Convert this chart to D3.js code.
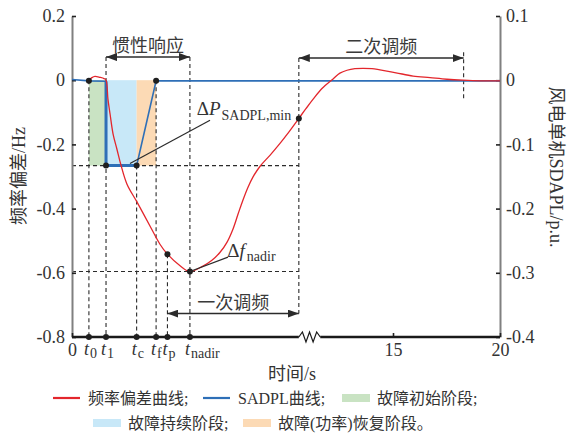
<!DOCTYPE html>
<html>
<head>
<meta charset="utf-8">
<script src="https://cdn.jsdelivr.net/npm/d3@7"></script>
<style>
  body { margin: 0; background: #fff; }
  svg { display: block; font-family: "Liberation Serif", "Times New Roman", "Noto Sans CJK SC", serif; }
</style>
</head>
<body>
<svg id="chart" width="570" height="437"></svg>
<script>
// ---- axes ----
const timeDomain = [0, 20];
const timeTicks = [0, 15, 20];
const freqDomain = [-0.8, 0.2];            // Hz
const freqTicks = [0.2, 0, -0.2, -0.4, -0.6, -0.8];
const sadplDomain = [-0.4, 0.1];           // p.u.
const sadplTicks = [0.1, 0, -0.1, -0.2, -0.3, -0.4];

// ---- characteristic instants: t0, t1, tc, tf, tp, tnadir ----
const eventSubs = ["0", "1", "c", "f", "p", "nadir"];
const eventTimes = [0.79, 1.59, 3.02, 3.93, 4.46, 5.51];
const primaryEnd = 10.6;     // primary regulation ends, secondary starts
const breakEnd = 11.6;       // end of the broken stretch of the time axis
const secondaryEnd = 18.3;

// ---- frequency deviation curve (Hz) ----
const freqTime = [0.79, 0.93, 1.07, 1.31, 1.50, 1.59, 1.68, 1.78, 1.92, 2.10,
  2.29, 2.57, 3.04, 3.65, 4.11, 4.46, 5.05, 5.51, 6.12, 6.54,
  6.92, 7.24, 7.52, 7.76, 7.99, 8.22, 8.46, 8.79, 9.25, 9.72,
  10.05, 10.6, 10.94, 11.26, 11.68, 12.2, 12.52, 12.85, 13.22, 13.6,
  14.02, 14.39, 15.14, 15.94, 16.73, 17.52, 18.27, 19.07, 20];
const freqDev = [0, 0.008, 0.012, 0.009, 0.005, 0, -0.059, -0.106, -0.168, -0.215,
  -0.265, -0.324, -0.380, -0.455, -0.511, -0.542, -0.578, -0.596, -0.579, -0.561,
  -0.536, -0.505, -0.464, -0.417, -0.373, -0.334, -0.301, -0.268, -0.234, -0.197,
  -0.169, -0.119, -0.088, -0.060, -0.026, 0.004, 0.022, 0.031, 0.036, 0.037,
  0.036, 0.032, 0.023, 0.013, 0.008, 0.003, 0, -0.002, -0.002];

// ---- wind turbine SADPL curve (p.u.) ----
const sadplTime = [0, 0.79, 1.59, 1.59, 3.02, 3.93, 20];
const sadplVal = [0.001, -0.001, -0.0015, -0.133, -0.133, -0.001, -0.001];
const sadplMin = -0.133;

// ---- fault stages ----
const stageStart = [0.79, 1.59, 3.02];
const stageEnd = [1.59, 3.02, 3.93];
const stageColors = ["#c9e3c3", "#c8e8f8", "#fcdab5"];

// ---- phase labels ----
const phaseNames = ["惯性响应", "一次调频", "二次调频"];

// ---- legend ----
const legendLabels = ["频率偏差曲线;", "SADPL曲线;", "故障初始阶段;", "故障持续阶段;", "故障(功率)恢复阶段。"];
const legendKinds = ["line", "line", "rect", "rect", "rect"];
const legendColors = ["#e3262c", "#2e6fb7", "#c9e3c3", "#c8e8f8", "#fcdab5"];

const RED = "#e3262c", BLUE = "#2e6fb7", INK = "#2b2b2b", TXT = "#333";

const svg = d3.select("#chart");
const x = d3.scaleLinear().domain(timeDomain).range([72, 500]);
const yF = d3.scaleLinear().domain(freqDomain).range([337, 16]);
const yS = d3.scaleLinear().domain(sadplDomain).range([337, 16]);
const fmt = d => d === 0 ? "0" : String(+d.toFixed(1));
const freqAt = t => freqDev[freqTime.indexOf(t)];
const [t0, t1, tc, tf, tp, tn] = eventTimes;
const nadir = freqAt(tn);

// arrow heads
const defs = svg.append("defs");
defs.append("marker").attr("id", "arr")
  .attr("viewBox", "0 0 11 8").attr("refX", 11).attr("refY", 4)
  .attr("markerWidth", 11).attr("markerHeight", 8)
  .attr("markerUnits", "userSpaceOnUse").attr("orient", "auto-start-reverse")
  .append("path").attr("d", "M0,0L11,4L0,8z").attr("fill", INK);

// fault stage shading
svg.append("g").selectAll("rect").data(stageStart).join("rect")
  .attr("x", (d, i) => x(d))
  .attr("width", (d, i) => x(stageEnd[i]) - x(d))
  .attr("y", yS(0))
  .attr("height", yS(sadplMin) - yS(0))
  .attr("fill", (d, i) => stageColors[i]);

// dashed guide lines
const guides = svg.append("g").attr("stroke", INK).attr("stroke-width", 1.1)
  .attr("stroke-dasharray", "4,3").attr("fill", "none");
const dash = (x1, y1, x2, y2) => guides.append("line")
  .attr("x1", x1).attr("y1", y1).attr("x2", x2).attr("y2", y2);
const inertiaLevel = 0.072, secondaryLevel = 0.069, primaryLevel = -0.727;
const bottomY = yF(freqDomain[0]);
dash(x(t0), yS(0), x(t0), bottomY);
dash(x(t1), yF(inertiaLevel), x(t1), bottomY);
dash(x(tc), yS(sadplMin), x(tc), bottomY);
dash(x(tf), yS(0), x(tf), bottomY);
dash(x(tp), yF(freqAt(tp)), x(tp), bottomY);
dash(x(tn), yF(inertiaLevel), x(tn), bottomY);
dash(x(primaryEnd), yF(secondaryLevel), x(primaryEnd), yF(primaryLevel));
dash(x(secondaryEnd), yF(0.087), x(secondaryEnd), yF(-0.065));
dash(x(0), yS(sadplMin), x(primaryEnd), yS(sadplMin));
dash(x(0), yF(nadir), x(primaryEnd), yF(nadir));

// left axis
const gL = svg.append("g").attr("transform", "translate(72,0)")
  .call(d3.axisLeft(yF).tickValues(freqTicks).tickFormat(fmt)
    .tickSizeInner(-4).tickSizeOuter(0).tickPadding(7));
// right axis
const gR = svg.append("g").attr("transform", "translate(500,0)")
  .call(d3.axisRight(yS).tickValues(sadplTicks).tickFormat(fmt)
    .tickSizeInner(-4).tickSizeOuter(0).tickPadding(6));
[gL, gR].forEach(g => {
  g.select(".domain").attr("stroke", "#808080").attr("stroke-width", 2);
  g.selectAll(".tick line").attr("stroke", "#222").attr("stroke-width", 1.6);
  g.selectAll(".tick text").attr("fill", TXT).attr("font-size", 18)
    .attr("font-family", "Liberation Serif, serif");
});

// bottom axis with a break
const gB = svg.append("g").attr("transform", `translate(0,${bottomY})`)
  .call(d3.axisBottom(x).tickValues(timeTicks).tickFormat(d3.format("d"))
    .tickSizeInner(-4).tickSizeOuter(0).tickPadding(6));
gB.select(".domain").remove();
gB.selectAll(".tick line").attr("stroke", "#222").attr("stroke-width", 1.6);
gB.selectAll(".tick text").attr("fill", TXT).attr("font-size", 18)
  .attr("font-family", "Liberation Serif, serif");
const xb0 = x(primaryEnd), xb1 = x(breakEnd);
svg.append("path")
  .attr("d", `M${x(0)},${bottomY}H${xb0}M${xb1},${bottomY}H${x(20)}`)
  .attr("stroke", "#1a1a1a").attr("stroke-width", 2.6).attr("fill", "none");
const zig = d3.range(7).map(i => [xb0 + (xb1 - xb0) * i / 6,
  bottomY + (i === 0 || i === 6 ? 0 : (i % 2 ? -5 : 5))]);
svg.append("path").attr("d", d3.line()(zig))
  .attr("stroke", "#1a1a1a").attr("stroke-width", 1.2).attr("fill", "none");

// SADPL curve
const sadplPts = sadplTime.map((t, i) => [t, sadplVal[i]]);
const sLine = d3.line().x(d => x(d[0])).y(d => yS(d[1]));
svg.append("path").attr("d", sLine(sadplPts))
  .attr("stroke", BLUE).attr("stroke-width", 1.6).attr("fill", "none");
svg.append("path").attr("d", sLine(sadplPts.slice(2, 5)))
  .attr("stroke", BLUE).attr("stroke-width", 3).attr("fill", "none");

// frequency deviation curve
const freqPts = freqTime.map((t, i) => [t, freqDev[i]]);
svg.append("path")
  .attr("d", d3.line().x(d => x(d[0])).y(d => yF(d[1])).curve(d3.curveCatmullRom.alpha(0.5))(freqPts))
  .attr("stroke", RED).attr("stroke-width", 1.3).attr("fill", "none");

// markers
const dots = [
  [x(t0), yS(sadplVal[1])], [x(t1), yS(sadplMin)], [x(tc), yS(sadplMin)], [x(tf), yS(sadplVal[5])],
  [x(tp), yF(freqAt(tp))], [x(tn), yF(nadir)], [x(primaryEnd), yF(freqAt(primaryEnd))],
  ...eventTimes.map(t => [x(t), bottomY])
];
svg.append("g").selectAll("circle").data(dots).join("circle")
  .attr("cx", d => d[0]).attr("cy", d => d[1]).attr("r", 3).attr("fill", "#1f1f1f");

// event labels on the time axis
const evText = svg.append("g").attr("fill", TXT).attr("font-family", "Liberation Serif, serif");
eventTimes.forEach((t, i) => {
  const tx = evText.append("text").attr("x", x(t) - 5).attr("y", 355);
  tx.append("tspan").attr("font-size", 18).attr("font-style", "italic").text("t");
  tx.append("tspan").attr("font-size", 14).attr("dy", 3).attr("dx", 1).text(eventSubs[i]);
});

// phase arrows
const phases = [
  [t1, tn, inertiaLevel],
  [tp, primaryEnd, primaryLevel],
  [primaryEnd, secondaryEnd, secondaryLevel]
];
phases.forEach(([a, b, lv], i) => {
  svg.append("line").attr("x1", x(a)).attr("x2", x(b)).attr("y1", yF(lv)).attr("y2", yF(lv))
    .attr("stroke", INK).attr("stroke-width", 1.5)
    .attr("marker-start", "url(#arr)").attr("marker-end", "url(#arr)");
  svg.append("text").attr("x", (x(a) + x(b)) / 2).attr("y", yF(lv) - 13)
    .attr("text-anchor", "middle").attr("dominant-baseline", "central")
    .attr("font-size", 18).attr("fill", "#3a3a3a")
    .attr("font-family", "Noto Sans CJK SC, sans-serif")
    .text(phaseNames[i]);
});

// value annotations
svg.append("line").attr("x1", x(2.71)).attr("y1", yS(sadplMin) - 2)
  .attr("x2", x(6.45)).attr("y2", yF(-0.125)).attr("stroke", INK).attr("stroke-width", 1.2);
const dp = svg.append("text").attr("x", x(5.83)).attr("y", 115).attr("fill", TXT)
  .attr("font-family", "Liberation Serif, serif");
dp.append("tspan").attr("font-size", 19).text("Δ");
dp.append("tspan").attr("font-size", 19).attr("font-style", "italic").text("P");
dp.append("tspan").attr("font-size", 14).attr("dy", 5).attr("dx", 1).text("SADPL,min");

svg.append("line").attr("x1", x(tn)).attr("y1", yF(nadir))
  .attr("x2", x(7.29)).attr("y2", yF(-0.551)).attr("stroke", INK).attr("stroke-width", 1.2);
const df = svg.append("text").attr("x", x(7.26)).attr("y", 257).attr("fill", TXT)
  .attr("font-family", "Liberation Serif, serif");
df.append("tspan").attr("font-size", 19).text("Δ");
df.append("tspan").attr("font-size", 19).attr("font-style", "italic").text("f");
df.append("tspan").attr("font-size", 14).attr("dy", 4).attr("dx", 2).text("nadir");

// axis titles
svg.append("text").attr("transform", "translate(19,176) rotate(-90)")
  .attr("text-anchor", "middle").attr("dominant-baseline", "central")
  .attr("font-size", 18).attr("fill", TXT).text("频率偏差/Hz");
svg.append("text").attr("transform", "translate(556,167) rotate(90)")
  .attr("text-anchor", "middle").attr("dominant-baseline", "central")
  .attr("font-size", 18).attr("fill", TXT).text("风电单机SDAPL/p.u.");
svg.append("text").attr("x", 292).attr("y", 374)
  .attr("text-anchor", "middle").attr("dominant-baseline", "central")
  .attr("font-size", 18).attr("fill", TXT).text("时间/s");

// legend
const legendPos = [[53, 398], [203, 398], [342, 398], [93, 423], [243, 423]];
const lg = svg.append("g");
legendLabels.forEach((lab, i) => {
  const [lx, ly] = legendPos[i];
  if (legendKinds[i] === "line") {
    lg.append("line").attr("x1", lx).attr("x2", lx + 27).attr("y1", ly).attr("y2", ly)
      .attr("stroke", legendColors[i]).attr("stroke-width", 2.2);
  } else {
    lg.append("rect").attr("x", lx).attr("y", ly - 4).attr("width", 28).attr("height", 8)
      .attr("fill", legendColors[i]);
  }
  lg.append("text").attr("x", lx + 35).attr("y", ly)
    .attr("dominant-baseline", "central").attr("font-size", 16).attr("fill", TXT)
    .text(lab);
});
</script>
</body>
</html>
